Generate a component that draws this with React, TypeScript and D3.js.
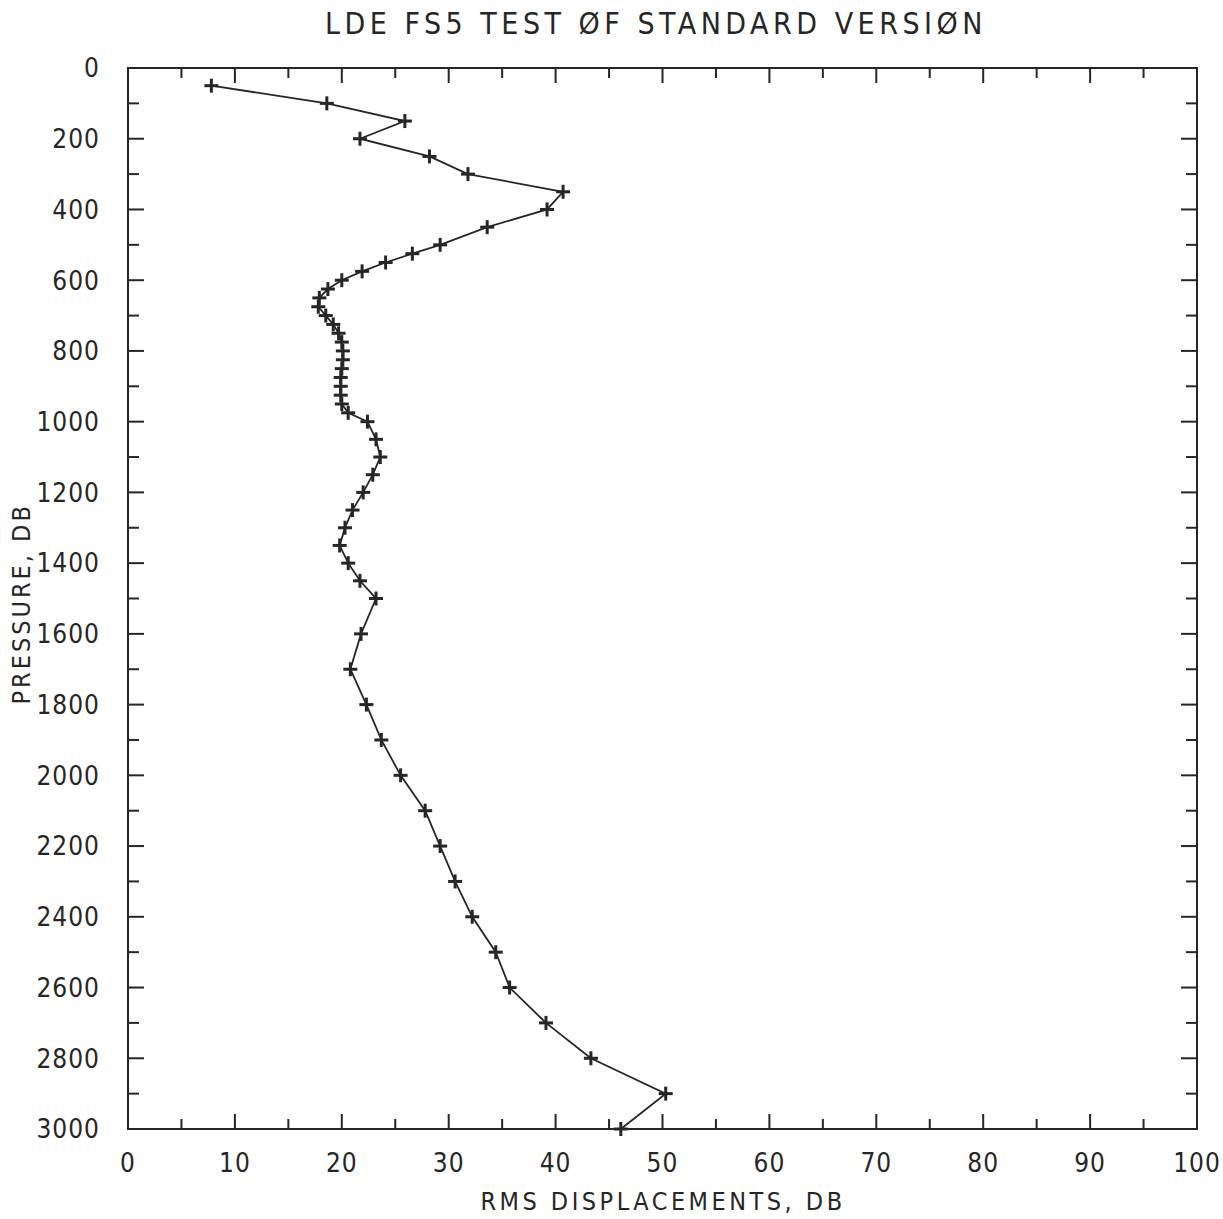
import React from "react";
import * as d3 from "d3";

// pressure levels (db) and rms displacement (db)
const pressure = [
  50, 100, 150, 200, 250, 300, 350, 400, 450, 500, 525, 550, 575, 600, 625, 650,
  675, 700, 725, 750, 775, 800, 825, 850, 875, 900, 925, 950, 975, 1000, 1050,
  1100, 1150, 1200, 1250, 1300, 1350, 1400, 1450, 1500, 1600, 1700, 1800, 1900,
  2000, 2100, 2200, 2300, 2400, 2500, 2600, 2700, 2800, 2900, 3000,
];
const rms = [
  7.8, 18.6, 25.9, 21.7, 28.2, 31.8, 40.7, 39.2, 33.6, 29.2, 26.6, 24.1, 21.9,
  20.0, 18.7, 17.9, 17.8, 18.5, 19.2, 19.7, 20.0, 20.1, 20.1, 20.0, 19.9, 19.9,
  19.9, 20.0, 20.6, 22.4, 23.2, 23.6, 22.9, 22.0, 21.0, 20.3, 19.8, 20.6, 21.7,
  23.2, 21.8, 20.8, 22.3, 23.7, 25.5, 27.8, 29.2, 30.6, 32.2, 34.4, 35.7, 39.1,
  43.3, 50.3, 46.1,
];
const xTickLabels = [0, 10, 20, 30, 40, 50, 60, 70, 80, 90, 100];
const yTickLabels = [0, 200, 400, 600, 800, 1000, 1200, 1400, 1600, 1800, 2000, 2200, 2400, 2600, 2800, 3000];

const W = 1223;
const H = 1219;
const ink = "#262626";
const font = "'DejaVu Sans Condensed', 'Liberation Sans Narrow', sans-serif";

const App = () => {
  const x = d3.scaleLinear().domain([0, 100]).range([128, 1197]);
  const y = d3.scaleLinear().domain([0, 3000]).range([68, 1129]);
  const [x0, x1] = x.range();
  const [y0, y1] = y.range();

  const data = pressure.map((p, i) => ({ p, v: rms[i] }));
  const line = d3
    .line<{ p: number; v: number }>()
    .x((d) => x(d.v))
    .y((d) => y(d.p));

  const xMinor = d3.range(0, 101, 5);
  const yMinor = d3.range(0, 3001, 100);

  return (
    <svg
      width={W}
      height={H}
      style={{ position: "absolute", left: 0, top: 0, background: "#fff" }}
    >
      <rect width={W} height={H} fill="#fff" />
      {/* title */}
      <text
        x={656}
        y={34}
        textAnchor="middle"
        fontFamily={font}
        fontSize={30}
        letterSpacing={4.5}
        fill={ink}
      >
        LDE FS5 TEST ØF STANDARD VERSIØN
      </text>

      {/* frame */}
      <rect x={x0} y={y0} width={x1 - x0} height={y1 - y0} fill="none" stroke={ink} strokeWidth={2} />

      {/* x ticks, bottom and top */}
      {xMinor.map((t) => {
        const len = t % 10 === 0 ? 15 : 10;
        return (
          <g key={"xt" + t}>
            <line x1={x(t)} x2={x(t)} y1={y1} y2={y1 - len} stroke={ink} strokeWidth={2} />
            <line x1={x(t)} x2={x(t)} y1={y0} y2={y0 + len} stroke={ink} strokeWidth={2} />
          </g>
        );
      })}
      {/* y ticks, left and right */}
      {yMinor.map((t) => {
        const len = t % 200 === 0 ? 16 : 11;
        return (
          <g key={"yt" + t}>
            <line x1={x0} x2={x0 + len} y1={y(t)} y2={y(t)} stroke={ink} strokeWidth={2} />
            <line x1={x1} x2={x1 - len} y1={y(t)} y2={y(t)} stroke={ink} strokeWidth={2} />
          </g>
        );
      })}

      {/* tick labels */}
      {xTickLabels.map((t) => (
        <text
          key={"xl" + t}
          x={x(t)}
          y={1172}
          textAnchor="middle"
          fontFamily={font}
          fontSize={26}
          letterSpacing={1}
          fill={ink}
        >
          {t}
        </text>
      ))}
      {yTickLabels.map((t) => (
        <text
          key={"yl" + t}
          x={100}
          y={y(t)}
          dy="0.36em"
          textAnchor="end"
          fontFamily={font}
          fontSize={26}
          letterSpacing={1}
          fill={ink}
        >
          {t}
        </text>
      ))}

      {/* axis titles */}
      <text
        x={663}
        y={1210}
        textAnchor="middle"
        fontFamily={font}
        fontSize={25}
        letterSpacing={3.5}
        fill={ink}
      >
        RMS DISPLACEMENTS, DB
      </text>
      <text
        transform={`translate(30,${y(1515)}) rotate(-90)`}
        textAnchor="middle"
        fontFamily={font}
        fontSize={25}
        letterSpacing={3}
        fill={ink}
      >
        PRESSURE, DB
      </text>

      {/* profile */}
      <path d={line(data) || ""} fill="none" stroke={ink} strokeWidth={1.8} />
      {data.map((d, i) => (
        <g key={"m" + i} stroke={ink} strokeWidth={3}>
          <line x1={x(d.v) - 7} x2={x(d.v) + 7} y1={y(d.p)} y2={y(d.p)} />
          <line x1={x(d.v)} x2={x(d.v)} y1={y(d.p) - 7} y2={y(d.p) + 7} />
        </g>
      ))}
    </svg>
  );
};

export default App;
